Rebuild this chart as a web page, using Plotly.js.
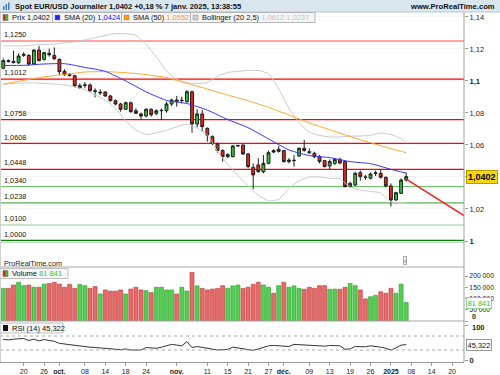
<!DOCTYPE html>
<html><head><meta charset="utf-8">
<script src="https://cdn.plot.ly/plotly-3.0.1.min.js"></script>
<style>html,body{margin:0;padding:0;background:#fff;}#chart{width:500px;height:375px;}</style>
</head><body><div id="chart"></div>
<script>
const dates = ['2024-09-16','2024-09-17','2024-09-18','2024-09-19','2024-09-20','2024-09-23','2024-09-24','2024-09-25','2024-09-26','2024-09-27','2024-09-30',
'2024-10-01','2024-10-02','2024-10-03','2024-10-04','2024-10-07','2024-10-08','2024-10-09','2024-10-10','2024-10-11','2024-10-14','2024-10-15','2024-10-16','2024-10-17','2024-10-18','2024-10-21','2024-10-22','2024-10-23','2024-10-24','2024-10-25','2024-10-28','2024-10-29','2024-10-30','2024-10-31',
'2024-11-01','2024-11-04','2024-11-05','2024-11-06','2024-11-07','2024-11-08','2024-11-11','2024-11-12','2024-11-13','2024-11-14','2024-11-15','2024-11-18','2024-11-19','2024-11-20','2024-11-21','2024-11-22','2024-11-25','2024-11-26','2024-11-27','2024-11-28','2024-11-29',
'2024-12-02','2024-12-03','2024-12-04','2024-12-05','2024-12-06','2024-12-09','2024-12-10','2024-12-11','2024-12-12','2024-12-13','2024-12-16','2024-12-17','2024-12-18','2024-12-19','2024-12-20','2024-12-23','2024-12-24','2024-12-26','2024-12-27','2024-12-30','2024-12-31',
'2025-01-02','2025-01-03','2025-01-06','2025-01-07'];
const futureDates = ['2025-01-08','2025-01-09','2025-01-10','2025-01-13','2025-01-14','2025-01-15','2025-01-16','2025-01-17','2025-01-20','2025-01-21','2025-01-22','2025-01-23'];

const open  = [1.1079,1.1127,1.1123,1.1114,1.1160,1.1160,1.1106,1.1193,1.1135,1.1173,1.1160,1.1135,1.1060,1.1041,1.1033,1.0956,1.0971,1.0975,1.0939,1.0925,
1.0931,1.0906,1.0877,1.0856,1.0823,1.0864,1.0814,1.0794,1.0781,1.0823,1.0798,1.0814,1.0814,1.0856,1.0881,1.0877,1.0871,1.0933,1.0731,1.0794,
1.0704,1.0652,1.0606,1.0565,1.0527,1.0527,1.0594,1.0600,1.0544,1.0460,1.0475,1.0433,1.0485,1.0565,1.0560,1.0565,1.0496,1.0502,1.0531,1.0579,
1.0558,1.0548,1.0527,1.0502,1.0469,1.0485,1.0510,1.0496,1.0340,1.0350,1.0427,1.0400,1.0392,1.0423,1.0423,1.0398,1.0344,1.0256,1.0298,1.0381];
const high  = [1.1141,1.1135,1.1189,1.1173,1.1180,1.1168,1.1198,1.1219,1.1181,1.1202,1.1210,1.1141,1.1073,1.1048,1.1039,1.0985,1.0993,1.0985,1.0954,1.0948,
1.0935,1.0912,1.0885,1.0864,1.0871,1.0871,1.0829,1.0802,1.0829,1.0829,1.0823,1.0827,1.0871,1.0889,1.0906,1.0902,1.0944,1.0940,1.0823,1.0819,
1.0710,1.0660,1.0615,1.0573,1.0548,1.0600,1.0602,1.0602,1.0548,1.0485,1.0517,1.0537,1.0565,1.0573,1.0594,1.0569,1.0517,1.0537,1.0585,1.0631,
1.0579,1.0558,1.0537,1.0506,1.0510,1.0517,1.0521,1.0502,1.0371,1.0433,1.0440,1.0413,1.0427,1.0440,1.0448,1.0402,1.0360,1.0308,1.0392,1.0427];
const low   = [1.1073,1.1115,1.1110,1.1106,1.1150,1.1094,1.1100,1.1123,1.1127,1.1152,1.1131,1.1037,1.1031,1.1027,1.0960,1.0950,1.0954,1.0933,1.0898,1.0912,
1.0902,1.0871,1.0848,1.0808,1.0819,1.0802,1.0794,1.0760,1.0773,1.0777,1.0786,1.0756,1.0802,1.0843,1.0839,1.0860,1.0864,1.0677,1.0710,1.0683,
1.0621,1.0600,1.0552,1.0496,1.0517,1.0523,1.0590,1.0537,1.0454,1.0323,1.0427,1.0423,1.0479,1.0548,1.0552,1.0490,1.0485,1.0465,1.0527,1.0558,
1.0544,1.0517,1.0485,1.0460,1.0448,1.0475,1.0479,1.0335,1.0335,1.0344,1.0377,1.0381,1.0385,1.0406,1.0390,1.0335,1.0215,1.0252,1.0294,1.0371];
const close = [1.1127,1.1122,1.1114,1.1156,1.1166,1.1106,1.1193,1.1127,1.1177,1.1164,1.1139,1.1058,1.1039,1.1035,1.0969,1.0971,1.0975,1.0939,1.0935,1.0929,
1.0906,1.0877,1.0856,1.0823,1.0864,1.0808,1.0798,1.0781,1.0823,1.0789,1.0814,1.0816,1.0856,1.0881,1.0871,1.0879,1.0933,1.0731,1.0794,1.0715,
1.0662,1.0612,1.0565,1.0527,1.0540,1.0594,1.0596,1.0544,1.0465,1.0413,1.0433,1.0485,1.0552,1.0556,1.0573,1.0496,1.0506,1.0504,1.0579,1.0565,
1.0552,1.0527,1.0496,1.0465,1.0496,1.0510,1.0487,1.0340,1.0360,1.0423,1.0402,1.0398,1.0419,1.0425,1.0398,1.0344,1.0256,1.0302,1.0381,1.0402];
const volume = [145000,145000,160000,172000,157000,160000,150000,150000,164000,167000,172000,164000,150000,163000,145000,163000,157000,145000,153000,120000,
138000,133000,133000,138000,120000,142000,150000,138000,135000,126000,150000,150000,138000,138000,120000,150000,133000,216000,156000,145000,
138000,142000,145000,157000,145000,156000,160000,145000,150000,163000,172000,160000,150000,123000,157000,172000,150000,156000,145000,141000,
150000,145000,157000,157000,141000,142000,141000,150000,167000,157000,138000,98000,108000,114000,130000,123000,145000,123000,164000,81841];
const rsi = [60,59,61,63,63,57,61,56,60,57,55,49,47,44,43,40,39,38,37,36,
35,34,32,31,33,30,30,30,37,35,35,38,41,46,44,42,54,37,40,38,
35,33,30,31,32,38,36,33,30,29,33,38,42,43,42,40,40,46,45,45,
44,42,40,41,43,42,42,32,33,40,39,39,42,41,38,35,30,36,44,45.322];

const smaIdx = [0,4,8,12,16,20,24,28,32,36,40,44,48,52,56,60,64,68,72,76,79];
const sma20 = [1.1097,1.1098,1.1106,1.1108,1.1085,1.1060,1.1000,1.0932,1.0879,1.0859,1.0818,1.0759,1.0708,1.0638,1.0569,1.0534,1.0521,1.0496,1.0483,1.0448,1.0424];
const sma50 = [1.0980,1.1004,1.1026,1.1040,1.1056,1.1058,1.1052,1.1040,1.1021,1.0985,1.0950,1.0912,1.0876,1.0835,1.0787,1.0738,1.0695,1.0653,1.0614,1.0577,1.0552];
const bandIdx = [0,2,4,6,8,10,12,14,16,18,20,22,24,26,28,30,32,34,36,38,40,42,44,46,48,50,52,54,56,58,60,62,64,66,68,70,72,74,76,78,79];
const bollUpper = [1.1219,1.1219,1.1219,1.1225,1.1228,1.1231,1.1238,1.1244,1.1256,1.1270,1.1285,1.1296,1.1296,1.1285,1.1228,1.1150,1.1063,1.1010,1.0990,1.0985,
1.0990,1.1030,1.1053,1.1060,1.1065,1.1065,1.1045,1.0950,1.0830,1.0740,1.0680,1.0660,1.0650,1.0650,1.0656,1.0656,1.0660,1.0675,1.0665,1.0640,1.0612];
const bollLower = [1.0981,1.0984,1.0988,1.0988,1.0984,1.0981,1.0975,1.0963,1.0944,1.0913,1.0880,1.0830,1.0750,1.0695,1.0666,1.0675,1.0692,1.0713,1.0730,1.0705,
1.0665,1.0560,1.0480,1.0410,1.0345,1.0285,1.0252,1.0260,1.0329,1.0375,1.0400,1.0400,1.0392,1.0390,1.0335,1.0318,1.0310,1.0300,1.0245,1.0240,1.0237];

const levels = [1.1250,1.1012,1.0758,1.0608,1.0448,1.0340,1.0238,1.0100,1.0000];
const levelLabels = ['1,1250','1,1012','1,0758','1,0608','1,0448','1,0340','1,0238','1,0100','1,0000'];
const trendDates = ['2025-01-07','2025-01-23'];
const trendValues = [1.0386,1.0145];

const tickDates = ['2024-09-20','2024-09-26','2024-10-01','2024-10-08','2024-10-14','2024-10-18','2024-10-24','2024-11-01','2024-11-11','2024-11-15','2024-11-21','2024-11-27','2024-12-02','2024-12-09','2024-12-13','2024-12-19','2024-12-26','2025-01-02','2025-01-08','2025-01-14','2025-01-20'];
const tickLabels = ['20','26','<b>oct.</b>','08','14','18','24','<b>nov.</b>','11','15','21','27','<b>déc.</b>','09','13','19','26','<b>2025</b>','08','14','20'];
const priceTicks = [1.00,1.02,1.04,1.06,1.08,1.10,1.12,1.14];
const priceTickText = ['<b>1</b>','1,02','','1,06','1,08','<b>1,1</b>','1,12','1,14'];
const volTicks = [0,50000,100000,150000,200000];
const volTickText = ['','50 000','100 000','150 000','200 000'];
const rsiTicks = [0,100];
const rsiTickText = ['<b>0</b>',''];

// ---- styles ----
const FONT = 'Liberation Sans, Arial, sans-serif';
const levelColors = ['#ffa4a4','#ff0000','#ff0000','#ff0000','#ff0000','#5fbf5f','#2a9f2a','#8fd08f','#0a820a'];
const levelWidths = [2,1.2,1.2,2,1.2,1,1,1,2.5];
const PW = 464, PB = 362, PH = 350;
const X = px => px / PW;
const Y = py => (PB - py) / PH;
const lastIdx = close.length - 1;
const fmt4 = v => v.toFixed(4).replace('.', ',');
const fmtVol = v => String(Math.round(v)).replace(/\B(?=(\d{3})+(?!\d))/g, ' ');

const traces = [
  {type:'candlestick', x:dates, open:open, high:high, low:low, close:close, xaxis:'x', yaxis:'y',
   increasing:{line:{color:'#1e1e1e',width:1}, fillcolor:'#2fc42f'},
   decreasing:{line:{color:'#1e1e1e',width:1}, fillcolor:'#e8231c'},
   whiskerwidth:0, hoverinfo:'skip'},
  {type:'scatter', mode:'lines', x:bandIdx.map(i=>dates[i]), y:bollUpper, yaxis:'y', line:{color:'#cacaca',width:1,shape:'spline',smoothing:0.6}, hoverinfo:'skip'},
  {type:'scatter', mode:'lines', x:bandIdx.map(i=>dates[i]), y:bollLower, yaxis:'y', line:{color:'#cacaca',width:1,shape:'spline',smoothing:0.6}, hoverinfo:'skip'},
  {type:'scatter', mode:'lines', x:smaIdx.map(i=>dates[i]), y:sma50, yaxis:'y', line:{color:'#ffa630',width:1,shape:'spline',smoothing:0.6}, hoverinfo:'skip'},
  {type:'scatter', mode:'lines', x:smaIdx.map(i=>dates[i]), y:sma20, yaxis:'y', line:{color:'#3434ff',width:1,shape:'spline',smoothing:0.6}, hoverinfo:'skip'},
  {type:'scatter', mode:'lines', x:trendDates, y:trendValues, yaxis:'y', line:{color:'#ff1a1a',width:1.5}, hoverinfo:'skip'},
  {type:'bar', x:dates, y:volume, yaxis:'y2', width:0.78,
   marker:{color:close.map((c,i)=>c>=open[i]?'#52d052':'#ea6868'),
           line:{color:close.map((c,i)=>c>=open[i]?'#2c962c':'#b23838'),width:0.6}}, hoverinfo:'skip'},
  {type:'scatter', mode:'lines', x:dates, y:rsi, yaxis:'y3', line:{color:'#333',width:1}, hoverinfo:'skip'}
];

const shapes = [];
levels.forEach((lv,k)=>shapes.push({type:'line', xref:'paper', yref:'y', x0:0, x1:1, y0:lv, y1:lv, layer:'below', line:{color:levelColors[k], width:levelWidths[k]}}));
[70,30].forEach(v=>shapes.push({type:'line', xref:'paper', yref:'y3', x0:0, x1:1, y0:v, y1:v, line:{color:'#a8a8a8', width:1, dash:'dot'}}));
shapes.push({type:'line', xref:'paper', yref:'paper', x0:0, x1:1, y0:Y(267), y1:Y(267), line:{color:'#a8a8a8', width:1}});
shapes.push({type:'line', xref:'paper', yref:'paper', x0:0, x1:1, y0:Y(321), y1:Y(321), line:{color:'#a8a8a8', width:1}});
shapes.push({type:'line', xref:'paper', yref:'paper', x0:1, x1:1, y0:0, y1:1, line:{color:'#a0a0a0', width:1}});
shapes.push({type:'line', xref:'paper', yref:'paper', x0:X(0.5), x1:X(0.5), y0:0, y1:1, line:{color:'#d0d0d0', width:1}});
// header
shapes.push({type:'rect', xref:'paper', yref:'paper', x0:0, x1:500/PW, y0:Y(12), y1:Y(0), fillcolor:'#dae6ee', line:{width:0}});
shapes.push({type:'line', xref:'paper', yref:'paper', x0:0, x1:500/PW, y0:Y(12), y1:Y(12), line:{color:'#b9c9d4', width:1}});
[[3,4.5,6],[5.5,7,4],[8,9.5,2.5]].forEach(b=>shapes.push({type:'rect', xref:'paper', yref:'paper', x0:X(b[0]), x1:X(b[1]), y0:Y(10), y1:Y(b[2]), fillcolor:'#3f7fcf', line:{width:0}}));
// legend bar
shapes.push({type:'rect', xref:'paper', yref:'paper', x0:X(0), x1:X(315), y0:Y(22.5), y1:Y(12.5), fillcolor:'#f5f5f5', line:{color:'#b5b5b5', width:1}});
[52.5,121.5,190.5].forEach(sx=>shapes.push({type:'line', xref:'paper', yref:'paper', x0:X(sx), x1:X(sx), y0:Y(22.5), y1:Y(12.5), line:{color:'#b5b5b5', width:1}}));
shapes.push({type:'rect', xref:'paper', yref:'paper', x0:X(3), x1:X(5.5), y0:Y(20.5), y1:Y(14.5), fillcolor:'#e8231c', line:{color:'#666',width:0.5}});
shapes.push({type:'rect', xref:'paper', yref:'paper', x0:X(5.5), x1:X(8), y0:Y(20.5), y1:Y(14.5), fillcolor:'#2fc42f', line:{color:'#666',width:0.5}});
[[55,'#2020ff'],[124,'#ff9900'],[193,'#d0d0d0']].forEach(s=>shapes.push({type:'rect', xref:'paper', yref:'paper', x0:X(s[0]), x1:X(s[0]+5), y0:Y(20), y1:Y(15), fillcolor:s[1], line:{color:'#888',width:0.5}}));
// volume legend box
shapes.push({type:'rect', xref:'paper', yref:'paper', x0:X(0), x1:X(68), y0:Y(278.5), y1:Y(268.5), fillcolor:'#f5f5f5', line:{color:'#c0c0c0', width:1}});
shapes.push({type:'rect', xref:'paper', yref:'paper', x0:X(3), x1:X(5.5), y0:Y(276.5), y1:Y(270.5), fillcolor:'#e8231c', line:{color:'#666',width:0.5}});
shapes.push({type:'rect', xref:'paper', yref:'paper', x0:X(5.5), x1:X(8), y0:Y(276.5), y1:Y(270.5), fillcolor:'#2fc42f', line:{color:'#666',width:0.5}});
// RSI legend box
shapes.push({type:'rect', xref:'paper', yref:'paper', x0:X(0), x1:X(63), y0:Y(333), y1:Y(323), fillcolor:'#f5f5f5', line:{color:'#c0c0c0', width:1}});
shapes.push({type:'rect', xref:'paper', yref:'paper', x0:X(3), x1:X(8), y0:Y(331), y1:Y(325), fillcolor:'#111', line:{width:0}});

const ann = [];
const A = (o)=>ann.push(Object.assign({showarrow:false, xref:'paper', yref:'paper', xanchor:'left', yanchor:'middle', font:{family:FONT, size:7.5, color:'#111'}}, o));
A({x:X(13), y:Y(6), text:'<b>Spot EUR/USD Journalier '+fmt4(close[lastIdx])+' +0,18 % 7 janv. 2025, 13:38:55</b>', font:{family:FONT,size:7.6,color:'#111'}});
A({x:X(497), y:Y(6), xanchor:'right', text:'<b>www.ProRealTime.com</b>', font:{family:FONT,size:7.6,color:'#111'}});
A({x:X(10), y:Y(17.5), text:'Prix '+fmt4(close[lastIdx])});
A({x:X(62), y:Y(17.5), text:'SMA (20) <span style="color:#1a1aee">'+fmt4(sma20[sma20.length-1])+'</span>'});
A({x:X(131), y:Y(17.5), text:'SMA (50) <span style="color:#f39a1e">'+fmt4(sma50[sma50.length-1])+'</span>'});
A({x:X(200), y:Y(17.5), text:'Bollinger (20 2,5) <span style="color:#c4c4c4">'+fmt4(bollUpper[bollUpper.length-1])+' '+fmt4(bollLower[bollLower.length-1])+'</span>'});
levels.forEach((lv,k)=>A({x:X(2), yref:'y', y:lv, yanchor:'bottom', yshift:0, text:levelLabels[k], font:{family:FONT,size:7.3,color:'#111'}}));
A({x:X(2), y:Y(263), text:'ProRealTime.com', font:{family:FONT,size:7.3,color:'#222'}});
A({x:X(10), y:Y(273.5), text:'Volume <span style="color:#3cc43c">'+fmtVol(volume[lastIdx])+'</span>'});
A({x:X(10), y:Y(328), text:'RSI (14) '+rsi[lastIdx].toFixed(3).replace('.',',')});
A({x:X(404.5), y:Y(260.5), xanchor:'center', text:'i', font:{family:FONT,size:6,color:'#666'}, bgcolor:'#eeeeee', bordercolor:'#aaaaaa', borderwidth:1, borderpad:0.5});
A({x:1, xshift:6, y:Y(316.5), text:'<b>'+volTicks[0]+'</b>', font:{family:FONT,size:7.2,color:'#222'}});
A({x:1, xshift:6, y:Y(327.5), text:'<b>'+rsiTicks[1]+'</b>', font:{family:FONT,size:7.5,color:'#222'}});
A({x:1, xshift:2, yref:'y', y:close[lastIdx], text:'<b>'+fmt4(close[lastIdx])+'</b>', font:{family:FONT,size:9,color:'#000'}, bgcolor:'#f5d60a', bordercolor:'#b89b00', borderwidth:1, borderpad:1});
A({x:1, xshift:2, yref:'y2', y:volume[lastIdx], text:fmtVol(volume[lastIdx]), font:{family:FONT,size:7.5,color:'#2fbf2f'}, bgcolor:'#ffffff', bordercolor:'#9ad09a', borderwidth:1, borderpad:0.5});
A({x:1, xshift:2, yref:'y3', y:rsi[lastIdx], text:rsi[lastIdx].toFixed(3).replace('.',','), font:{family:FONT,size:7.5,color:'#111'}, bgcolor:'#ffffff', bordercolor:'#999999', borderwidth:1, borderpad:0.5});

const yBase = {side:'right', tickmode:'array', ticks:'outside', ticklen:3, tickcolor:'#999', showgrid:false, zeroline:false, showline:false, fixedrange:true, anchor:'x'};
const layout = {
  width:500, height:375, margin:{l:0,r:36,t:12,b:13,pad:0},
  paper_bgcolor:'#ffffff', plot_bgcolor:'#ffffff', showlegend:false, separators:', ',
  font:{family:FONT, size:8, color:'#222'}, boxgap:0.2, bargap:0.2, hovermode:false,
  xaxis:{type:'category', categoryorder:'array', categoryarray:dates.concat(futureDates), range:[-0.647,90.33], anchor:'y3',
         tickmode:'array', tickvals:tickDates, ticktext:tickLabels, ticks:'outside', ticklen:3, tickcolor:'#999',
         tickfont:{family:FONT,size:7,color:'#222'}, showline:true, linecolor:'#999', linewidth:1, showgrid:false, zeroline:false,
         rangeslider:{visible:false}, fixedrange:true},
  yaxis:Object.assign({}, yBase, {domain:[Y(267),1], range:[0.98375,1.1431], tickvals:priceTicks, ticktext:priceTickText, tickfont:{family:FONT,size:7.5,color:'#222'}, showgrid:true, gridcolor:'#f3f3f3'}),
  yaxis2:Object.assign({}, yBase, {domain:[Y(321),Y(267)], range:[0,240000], tickvals:volTicks, ticktext:volTickText, tickfont:{family:FONT,size:6.8,color:'#222'}}),
  yaxis3:Object.assign({}, yBase, {domain:[0,Y(321)], range:[-4.3,112.9], tickvals:rsiTicks, ticktext:rsiTickText, tickfont:{family:FONT,size:7.5,color:'#222'}}),
  shapes:shapes, annotations:ann
};
Plotly.newPlot('chart', traces, layout, {staticPlot:true, displayModeBar:false});
</script></body></html>
